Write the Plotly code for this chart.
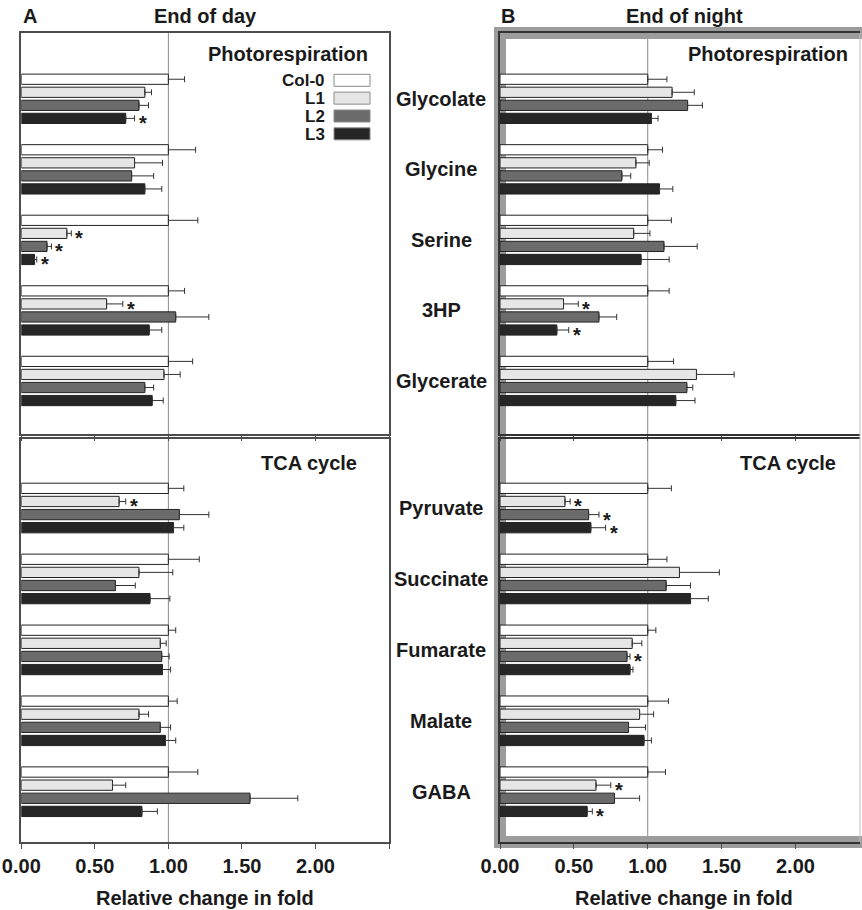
import plotly.graph_objects as go

# ---------------------------------------------------------------- data
LINES = ["Col-0", "L1", "L2", "L3"]
PHOTORESP = ["Glycolate", "Glycine", "Serine", "3HP", "Glycerate"]
TCA = ["Pyruvate", "Succinate", "Fumarate", "Malate", "GABA"]

# End of day, photorespiration (rows: Col-0, L1, L2, L3)
EOD_PR_MEAN = [
    [1.00, 1.00, 1.00, 1.00, 1.00],
    [0.84, 0.77, 0.31, 0.58, 0.97],
    [0.80, 0.75, 0.175, 1.05, 0.84],
    [0.71, 0.84, 0.09, 0.87, 0.89],
]
EOD_PR_ERR = [
    [0.11, 0.185, 0.20, 0.11, 0.165],
    [0.045, 0.19, 0.03, 0.11, 0.11],
    [0.065, 0.15, 0.03, 0.225, 0.06],
    [0.06, 0.115, 0.015, 0.085, 0.075],
]
EOD_PR_SIG = [
    [0, 0, 0, 0, 0],
    [0, 0, 1, 1, 0],
    [0, 0, 1, 0, 0],
    [1, 0, 1, 0, 0],
]

# End of day, TCA cycle
EOD_TCA_MEAN = [
    [1.00, 1.00, 1.00, 1.00, 1.00],
    [0.665, 0.80, 0.945, 0.80, 0.62],
    [1.075, 0.64, 0.955, 0.945, 1.555],
    [1.035, 0.875, 0.96, 0.98, 0.82],
]
EOD_TCA_ERR = [
    [0.105, 0.21, 0.05, 0.06, 0.20],
    [0.045, 0.23, 0.04, 0.065, 0.09],
    [0.20, 0.135, 0.05, 0.07, 0.325],
    [0.07, 0.135, 0.055, 0.07, 0.105],
]
EOD_TCA_SIG = [
    [0, 0, 0, 0, 0],
    [1, 0, 0, 0, 0],
    [0, 0, 0, 0, 0],
    [0, 0, 0, 0, 0],
]

# End of night, photorespiration
EON_PR_MEAN = [
    [1.00, 1.00, 1.00, 1.00, 1.00],
    [1.165, 0.92, 0.905, 0.43, 1.33],
    [1.27, 0.825, 1.11, 0.67, 1.265],
    [1.025, 1.08, 0.955, 0.385, 1.19],
]
EON_PR_ERR = [
    [0.13, 0.10, 0.16, 0.145, 0.175],
    [0.15, 0.09, 0.11, 0.10, 0.255],
    [0.10, 0.06, 0.225, 0.12, 0.04],
    [0.045, 0.09, 0.19, 0.08, 0.13],
]
EON_PR_SIG = [
    [0, 0, 0, 0, 0],
    [0, 0, 0, 1, 0],
    [0, 0, 0, 0, 0],
    [0, 0, 0, 1, 0],
]

# End of night, TCA cycle
EON_TCA_MEAN = [
    [1.00, 1.00, 1.00, 1.00, 1.00],
    [0.44, 1.215, 0.895, 0.945, 0.65],
    [0.60, 1.125, 0.86, 0.87, 0.775],
    [0.615, 1.29, 0.88, 0.975, 0.59],
]
EON_TCA_ERR = [
    [0.16, 0.13, 0.055, 0.14, 0.12],
    [0.035, 0.27, 0.065, 0.095, 0.10],
    [0.07, 0.165, 0.02, 0.115, 0.17],
    [0.10, 0.12, 0.02, 0.05, 0.035],
]
EON_TCA_SIG = [
    [0, 0, 0, 0, 0],
    [1, 0, 0, 0, 1],
    [1, 0, 1, 0, 0],
    [1, 0, 0, 0, 1],
]

TICK_VALS = [0, 0.5, 1.0, 1.5, 2.0, 2.5]
TICK_TEXT = ["0.00", "0.50", "1.00", "1.50", "2.00", ""]

# ---------------------------------------------------------------- style
W, H = 862, 910
FONT = "Liberation Sans, Arial, sans-serif"
TXT = "#1a1a1a"
FILL = ["#ffffff", "#e6e6e6", "#6b6b6b", "#262626"]
OUTLINE = "#222222"
ERR_COLOR = "#333333"
AXIS_COLOR = "#4d4d4d"
BAR_W = 0.145      # bar thickness in category units
STEP = 0.185       # distance between bars of one group


def fx(p):
    return p / W


def fy(p):
    return 1 - p / H


LEFT_DOM = [fx(21.3), fx(389)]
RIGHT_DOM = [fx(500), fx(860)]
TOP_DOM = [fy(434.3), fy(33)]
BOT_DOM = [fy(842), fy(439.3)]
TOP_RANGE = [4.756, -0.933]
BOT_RANGE = [4.709, -0.969]

fig = go.Figure()
annotations = []
shapes = []

panels = [
    ("x", "y", EOD_PR_MEAN, EOD_PR_ERR, EOD_PR_SIG),
    ("x2", "y2", EOD_TCA_MEAN, EOD_TCA_ERR, EOD_TCA_SIG),
    ("x3", "y3", EON_PR_MEAN, EON_PR_ERR, EON_PR_SIG),
    ("x4", "y4", EON_TCA_MEAN, EON_TCA_ERR, EON_TCA_SIG),
]

for xa, ya, mean, err, sig in panels:
    # thin reference line at a fold change of 1
    shapes.append(dict(type="line", xref=xa, yref=f"{ya} domain", x0=1, x1=1,
                       y0=0, y1=1, line=dict(color="#8c8c8c", width=1),
                       layer="below"))
    for k, name in enumerate(LINES):
        off = (k - 1.5) * STEP
        fig.add_trace(go.Bar(
            orientation="h", name=name,
            x=mean[k], y=list(range(len(mean[k]))),
            offset=off - BAR_W / 2, width=BAR_W,
            marker=dict(color=FILL[k], line=dict(color=OUTLINE, width=1)),
            error_x=dict(type="data", symmetric=False, array=err[k],
                         arrayminus=[0] * len(err[k]), color=ERR_COLOR,
                         thickness=1, width=3),
            xaxis=xa, yaxis=ya, showlegend=False, hoverinfo="x+name",
        ))
        for i, flag in enumerate(sig[k]):
            if flag:
                annotations.append(dict(
                    x=mean[k][i] + err[k][i], y=i + off, xref=xa, yref=ya,
                    text="*", showarrow=False, xanchor="left", yanchor="middle",
                    xshift=2, yshift=-5,
                    font=dict(family=FONT, size=20, color=TXT, weight="bold")))

# metabolite names between the two panels
for ya, names in (("y3", PHOTORESP), ("y4", TCA)):
    for i, n in enumerate(names):
        annotations.append(dict(x=fx(441), y=i, xref="paper", yref=ya, text=n,
                                showarrow=False, xanchor="center", yanchor="middle",
                                font=dict(family=FONT, size=20, color=TXT, weight="bold")))


def text(x, y, s, size=20, anchor="center", height=None):
    annotations.append(dict(x=fx(x), y=fy(y), xref="paper", yref="paper", text=s,
                            showarrow=False, xanchor=anchor, yanchor="middle",
                            height=height,
                            font=dict(family=FONT, size=size, color=TXT, weight="bold")))


text(21, 16, "A", anchor="left")
text(205, 16, "End of day")
text(499, 16, "B", anchor="left")
text(684, 16, "End of night")
text(370, 54, "Photorespiration", anchor="right")
text(850, 54, "Photorespiration", anchor="right")
text(359, 463, "TCA cycle", anchor="right")
text(838, 463, "TCA cycle", anchor="right")
text(205, 898, "Relative change in fold")
text(684, 898, "Relative change in fold")

# legend: label on the left, swatch on the right
for k, name in enumerate(LINES):
    cy = 80.3 + k * 17.85
    text(327, cy, name, size=17, anchor="right", height=16)
    shapes.append(dict(type="rect", xref="paper", yref="paper",
                       x0=fx(334), x1=fx(370), y0=fy(cy + 6), y1=fy(cy - 6),
                       fillcolor=FILL[k], line=dict(color="#8a8a8a", width=1)))

# highlighted frame around the end-of-night panel
shapes.append(dict(type="rect", xref="paper", yref="paper",
                   x0=fx(500), x1=1.1, y0=fy(842), y1=fy(33),
                   fillcolor="rgba(0,0,0,0)", line=dict(color="#9c9c9c", width=12),
                   layer="below"))
shapes.append(dict(type="line", xref="paper", yref="paper",
                   x0=fx(860), x1=fx(860), y0=fy(842), y1=fy(33),
                   line=dict(color="#bdbdbd", width=1)))


def xaxis(dom, anchor, rng, labels, color=AXIS_COLOR):
    return dict(domain=dom, anchor=anchor, range=rng, automargin=False,
                showline=True, mirror=True,
                linecolor=color, linewidth=1.5, ticks="outside", ticklen=5,
                tickwidth=1, tickcolor=AXIS_COLOR, tickvals=TICK_VALS, ticktext=TICK_TEXT,
                showticklabels=labels, showgrid=False, zeroline=False,
                tickfont=dict(family=FONT, size=20, color=TXT, weight="bold"))


def yaxis(dom, anchor, rng, mirror, color):
    return dict(domain=dom, anchor=anchor, range=rng, automargin=False,
                showline=True, mirror=mirror,
                linecolor=color, linewidth=1.5, ticks="", showticklabels=False,
                showgrid=False, zeroline=False)


fig.update_layout(
    width=W, height=H, margin=dict(l=0, r=0, t=0, b=0, pad=0, autoexpand=False),
    paper_bgcolor="white", plot_bgcolor="rgba(0,0,0,0)",
    barmode="overlay", showlegend=False,
    font=dict(family=FONT, color=TXT),
    xaxis=xaxis(LEFT_DOM, "y", [0, 2.5], False),
    yaxis=yaxis(TOP_DOM, "x", TOP_RANGE, True, AXIS_COLOR),
    xaxis2=xaxis(LEFT_DOM, "y2", [0, 2.5], True),
    yaxis2=yaxis(BOT_DOM, "x2", BOT_RANGE, True, AXIS_COLOR),
    xaxis3=xaxis(RIGHT_DOM, "y3", [0, 2.437], False, "#333333"),
    yaxis3=yaxis(TOP_DOM, "x3", TOP_RANGE, False, "#333333"),
    xaxis4=xaxis(RIGHT_DOM, "y4", [0, 2.437], True, "#333333"),
    yaxis4=yaxis(BOT_DOM, "x4", BOT_RANGE, False, "#333333"),
    annotations=annotations, shapes=shapes,
)

fig.write_html("out.html")
